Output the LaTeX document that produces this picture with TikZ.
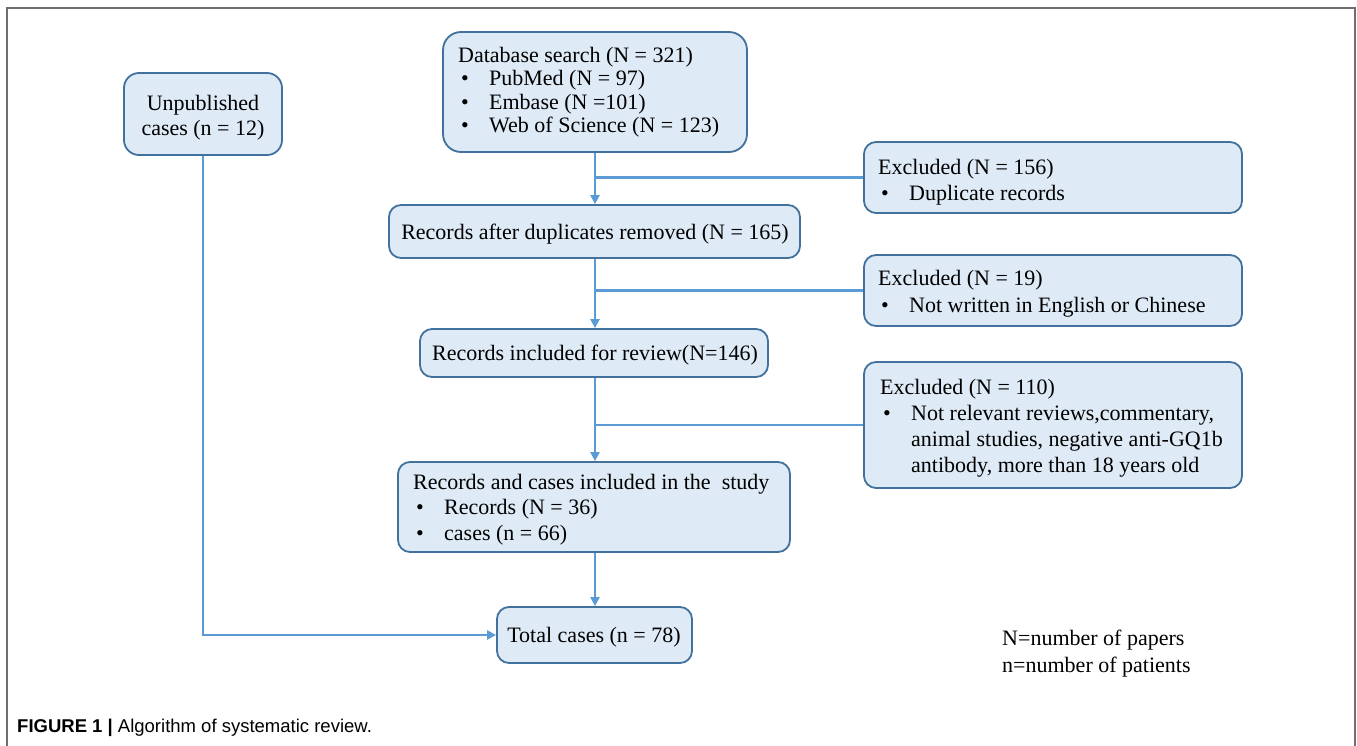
\documentclass[tikz,border=0pt]{standalone}
\usepackage{fontspec}
\setmainfont{Liberation Serif}
\newfontfamily\capfont{Liberation Sans}
\usetikzlibrary{arrows.meta}
\definecolor{boxfill}{HTML}{DEEAF6}
\definecolor{boxline}{HTML}{41719C}
\definecolor{conn}{HTML}{5B9BD5}
\definecolor{frame}{HTML}{6E6E6E}
\newcommand{\bul}{\makebox[31pt][l]{\hspace{3pt}\textbullet}}
\newcommand{\ind}{\hspace*{31pt}}
\tikzset{
  box/.style={draw=boxline, fill=boxfill, line width=1.8pt, rounded corners=12pt,
    inner sep=0pt},
  txt/.style={inner sep=0pt, align=left, font=\fontsize{22}{#1}\selectfont},
  txt/.default=26,
  conn/.style={draw=conn, line width=2.2pt},
  arr/.style={conn, -{Triangle[length=9pt,width=9pt]}}
}
\begin{document}
\begin{tikzpicture}[x=1pt,y=-1pt]
\useasboundingbox (0,0) rectangle (1357,746);
\draw[frame, line width=2pt] (7,746) -- (7,8) -- (1355,8) -- (1355,746);

% boxes
\node[box, rounded corners=15pt, minimum width=158pt, minimum height=82pt] (unp) at (203,114) {};
\node[box, rounded corners=18pt, minimum width=304pt, minimum height=120pt] (db) at (595,92) {};
\node[box, minimum width=411pt, minimum height=53pt] (rec1) at (594.5,231.5) {};
\node[box, minimum width=348pt, minimum height=48pt] (rec2) at (594,353) {};
\node[box, minimum width=392pt, minimum height=90pt] (rec3) at (594,507) {};
\node[box, minimum width=195pt, minimum height=56pt] (total) at (594.5,635) {};
\node[box, minimum width=378pt, minimum height=71pt] (ex1) at (1053,177.5) {};
\node[box, minimum width=378pt, minimum height=71pt] (ex2) at (1053,290.5) {};
\node[box, minimum width=378pt, minimum height=126pt] (ex3) at (1053,425) {};

% texts
\node[txt=25, align=center, anchor=north] (unpt) at (203,95)
  {Unpublished\\cases (n = 12)};
\node[txt=23.5, anchor=north west] (dbt) at (458,47)
  {Database search (N = 321)\\\bul PubMed (N = 97)\\\bul Embase (N =101)\\\bul Web of Science (N = 123)};
\node[txt, anchor=base] (rec1t) at (595,240)
  {Records after duplicates removed (N = 165)};
\node[txt, anchor=base] (rec2t) at (595,360)
  {Records included for review(N=146)};
\node[txt=25.5, anchor=north west] (rec3t) at (413,474)
  {Records and cases included in the\ \ study\\\bul Records (N = 36)\\\bul cases (n = 66)};
\node[txt, anchor=base] (totalt) at (594,642)
  {Total cases (n = 78)};
\node[txt=26, anchor=north west] (ex1t) at (878,159)
  {Excluded (N = 156)\\\bul Duplicate records};
\node[txt=27, anchor=north west] (ex2t) at (878,270)
  {Excluded (N = 19)\\\bul Not written in English or Chinese};
\node[txt=26, anchor=north west] (ex3t) at (880,379)
  {Excluded (N = 110)\\\bul Not relevant reviews,commentary,\\\ind animal studies, negative anti-GQ1b\\\ind antibody, more than 18 years old};

\node[txt=27, anchor=north west] (legend) at (1002,630)
  {N=number of papers\\n=number of patients};
\node[anchor=west, inner sep=0pt, font=\capfont\fontsize{18.5}{21}\selectfont] (caption) at (17,728)
  {\textbf{FIGURE 1 |} Algorithm of systematic review.};

% connectors
\draw[arr] (db.south) -- (db.south |- rec1.north);
\draw[conn] (db.south |- ex1.west) -- (ex1.west);
\draw[arr] (db.south |- rec1.south) -- (db.south |- rec2.north);
\draw[conn] (db.south |- ex2.west) -- (ex2.west);
\draw[arr] (db.south |- rec2.south) -- (db.south |- rec3.north);
\draw[conn] (db.south |- ex3.west) -- (ex3.west);
\draw[arr] (db.south |- rec3.south) -- (db.south |- total.north);
\draw[arr] (unp.south) |- (total.west);
\end{tikzpicture}
\end{document}
